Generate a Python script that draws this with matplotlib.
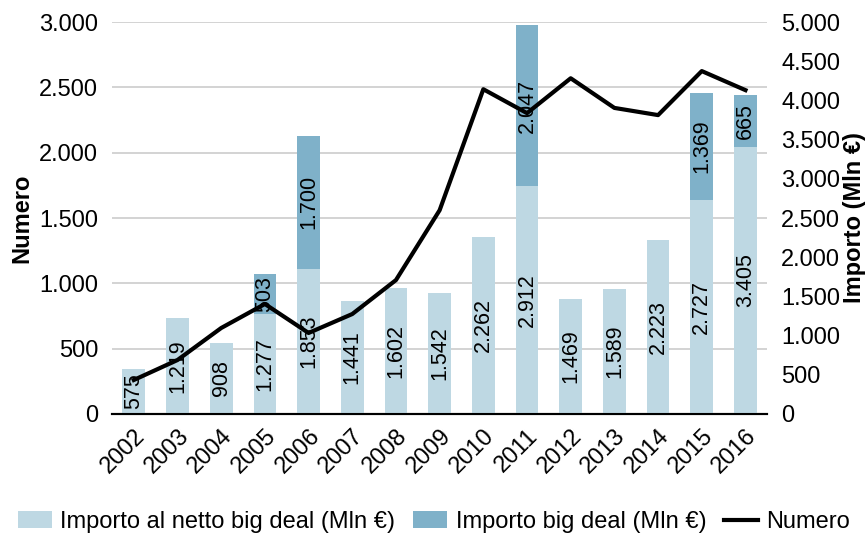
import matplotlib
matplotlib.use("Agg")
import matplotlib.pyplot as plt
import numpy as np

plt.rcParams["font.family"] = ["Liberation Sans", "DejaVu Sans"]

years = ["2002", "2003", "2004", "2005", "2006", "2007", "2008", "2009",
         "2010", "2011", "2012", "2013", "2014", "2015", "2016"]
importo_netto = [575, 1219, 908, 1277, 1853, 1441, 1602, 1542,
                 2262, 2912, 1469, 1589, 2223, 2727, 3405]
importo_big = [0, 0, 0, 503, 1700, 0, 0, 0, 0, 2047, 0, 0, 0, 1369, 665]
numero = [260, 413, 658, 842, 620, 765, 1025, 1560,
          2486, 2303, 2570, 2343, 2288, 2625, 2479]

left_ticks = list(range(0, 3001, 500))
right_ticks = list(range(0, 5001, 500))

c_light = "#bed8e3"
c_dark = "#7fb1c9"


def fmt(v):
    return f"{v:,}".replace(",", ".")


fig = plt.figure(figsize=(8.68, 5.39), dpi=100)
ax = fig.add_axes([0.129, 0.232, 0.755, 0.727])
ax2 = ax.twinx()
ax3 = ax.twinx()

x = np.arange(len(years))

# left axis: Numero, with grid
ax.set_ylim(0, 3000)
ax.set_xlim(-0.5, len(years) - 0.5)
ax.set_yticks(left_ticks)
ax.set_yticklabels([fmt(v) for v in left_ticks], fontsize=17)
ax.grid(axis="y", color="#cccccc", linewidth=1.2)
ax.set_axisbelow(True)
ax.set_ylabel("Numero", fontsize=17, fontweight="bold", labelpad=4)

# right axis: bars
b1 = ax2.bar(x, importo_netto, width=0.52, color=c_light,
             label="Importo al netto big deal (Mln €)")
b2 = ax2.bar(x, importo_big, width=0.52, bottom=importo_netto, color=c_dark,
             label="Importo big deal (Mln €)")
ax2.set_ylim(0, 5000)
ax2.set_yticks(right_ticks)
ax2.set_yticklabels([fmt(v) for v in right_ticks], fontsize=17)
ax2.set_ylabel("Importo (Mln €)", fontsize=17, fontweight="bold", labelpad=2)

for i in range(len(years)):
    ax2.text(x[i], importo_netto[i] / 2, fmt(importo_netto[i]), rotation=90,
             ha="center", va="center", fontsize=15.5)
    if importo_big[i]:
        ax2.text(x[i], importo_netto[i] + importo_big[i] / 2, fmt(importo_big[i]),
                 rotation=90, ha="center", va="center", fontsize=15.5)

# line axis
ln, = ax3.plot(x, numero, color="black", linewidth=3, label="Numero")
ax3.set_ylim(0, 3000)
ax3.set_axis_off()

ax.set_xticks(x)
ax.set_xticklabels(years, rotation=45, ha="right", rotation_mode="anchor",
                   fontsize=17)

for a in (ax, ax2):
    a.tick_params(length=0)
    for s in ("top", "left", "right"):
        a.spines[s].set_visible(False)
    a.spines["bottom"].set_linewidth(1.5)
ax.tick_params(axis="x", pad=8)
ax.tick_params(axis="y", pad=10)
ax2.tick_params(axis="y", pad=10)

fig.legend(handles=[b1, b2, ln], loc="lower center", ncol=3, frameon=False,
           bbox_to_anchor=(0.5, -0.028), fontsize=17, handlelength=1.45,
           handleheight=0.7, columnspacing=0.75, handletextpad=0.35)

fig.savefig("out.png", dpi=100)
